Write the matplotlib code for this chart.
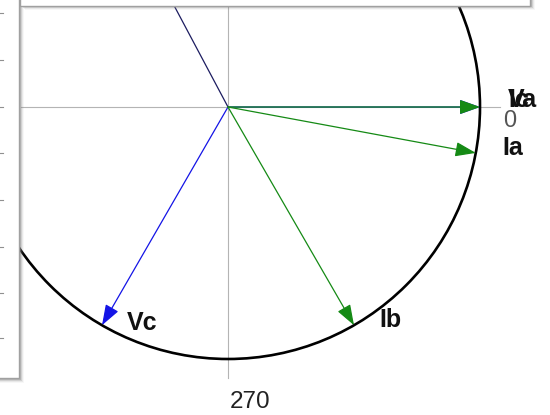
import numpy as np
import matplotlib
matplotlib.use('Agg')
import matplotlib.pyplot as plt
from matplotlib.patches import Rectangle, Circle

plt.rcParams['font.family'] = ['Liberation Sans', 'DejaVu Sans']

# phasors: name, magnitude (per unit of circle radius), angle in degrees
names = ['Va', 'Vb', 'Vc', 'Ia', 'Ib', 'Ic']
mags = [1.0, 1.0, 1.0, 1.0, 1.0, 1.0]
angles = [0, 118, 240, 349.5, 300, 0]
colors = ['#1010e0', '#1c1c60', '#1414e6', '#158a15', '#158a15', '#158a15']

# angle tick labels visible on the crop
tick_angles = [0, 270]
tick_labels = ['0', '270']

# picture geometry (pixels)
W, H = 550, 415
cx, cy, R = 228, 107, 252

fig = plt.figure(figsize=(W / 100, H / 100), dpi=100)
ax = fig.add_axes([0, 0, 1, 1])
ax.set_xlim(-cx / R, (W - cx) / R)
ax.set_ylim(-(H - cy) / R, cy / R)
ax.axis('off')

# crosshair
ax.plot([0, 0], [cy / R, -(378 - cy) / R], color='#b4b4b4', lw=0.8, zorder=1)
ax.plot([(21 - cx) / R, (500 - cx) / R], [0, 0], color='#b4b4b4', lw=0.8, zorder=1)

ax.add_patch(Circle((0, 0), 1.0, fill=False, ec='black', lw=1.9, zorder=3))

for n, m, a, c in zip(names, mags, angles, colors):
    t = np.deg2rad(a)
    tip = (m * np.cos(t), m * np.sin(t))
    ax.annotate('', xy=tip, xytext=(0, 0), annotation_clip=False,
                arrowprops=dict(arrowstyle='-|>,head_length=0.9,head_width=0.32',
                                color=c, lw=0.9, shrinkA=0, shrinkB=0,
                                mutation_scale=14),
                zorder=4)

# phasor labels (pixel positions of the text's left/top)
lab_pos = {'Va': (508, 88), 'Ic': (508, 88), 'Ia': (502, 136),
           'Ib': (379, 308), 'Vc': (127, 311)}
for n, (px, py) in lab_pos.items():
    ax.text((px - cx) / R, (cy - py) / R, n, fontsize=18, fontweight='bold',
            color='#111111', ha='left', va='top', zorder=5)

# angle labels
ax.text((503 - cx) / R, (cy - 110) / R, tick_labels[0], fontsize=17,
        color='#555555', ha='left', va='top', zorder=5)
ax.text((230 - cx) / R, (cy - 391) / R, tick_labels[1], fontsize=17.5,
        color='#222222', ha='left', va='top', zorder=5)

# overlapping window chrome in pixel coordinates
ov = fig.add_axes([0, 0, 1, 1])
ov.set_xlim(0, W)
ov.set_ylim(H, 0)
ov.axis('off')
ov.patch.set_visible(False)

# top panel with shadow
for i, al in enumerate([0.35, 0.22, 0.12, 0.06]):
    ov.add_patch(Rectangle((22 + i, 0), 510, 7 + i, fc='#808080', alpha=al, ec='none', zorder=1))
ov.add_patch(Rectangle((20, -5), 510, 11, fc='white', ec='#a0a0a0', lw=1.0, zorder=2))

# left panel with shadow
for i, al in enumerate([0.35, 0.22, 0.12, 0.06]):
    ov.add_patch(Rectangle((0, 0), 21 + i, 380 + i, fc='#808080', alpha=al, ec='none', zorder=1))
ov.add_patch(Rectangle((-5, -5), 24, 383, fc='white', ec='#a0a0a0', lw=1.0, zorder=2))
for y in [13, 60, 107, 153, 200, 247, 293, 338]:
    ov.plot([0, 3], [y, y], color='#909090', lw=0.8, zorder=3)

fig.savefig('out.png', dpi=100)
